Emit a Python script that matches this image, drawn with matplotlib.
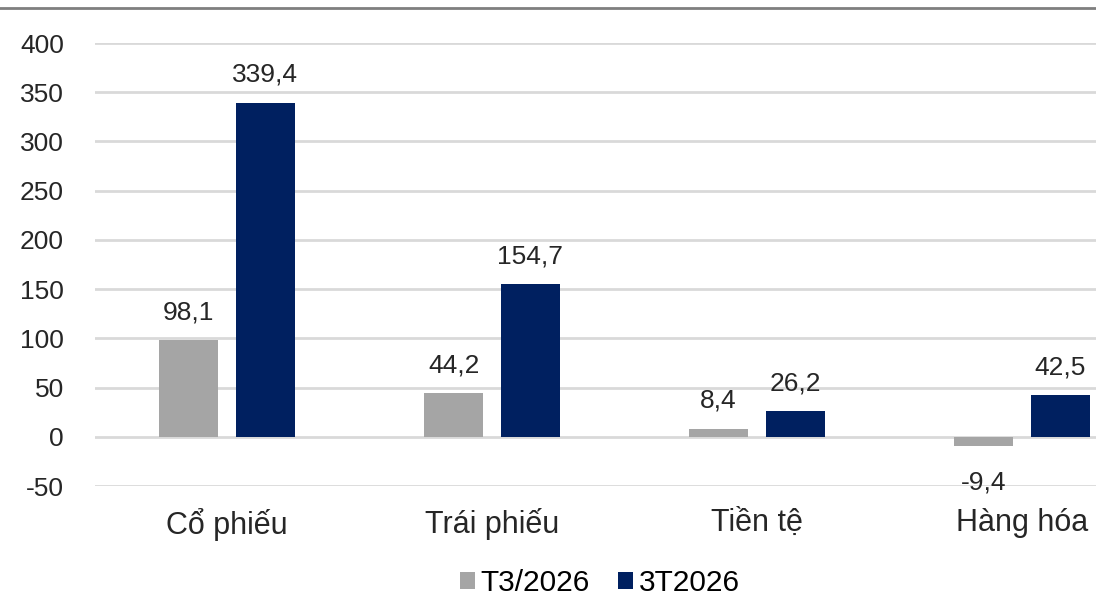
import numpy as np
import matplotlib.pyplot as plt
from matplotlib.lines import Line2D

plt.rcParams['font.family'] = ['Liberation Sans', 'DejaVu Sans']
plt.rcParams['axes.unicode_minus'] = False

categories = ['Cổ phiếu', 'Trái phiếu', 'Tiền tệ', 'Hàng hóa']
t3_2026 = [98.1, 44.2, 8.4, -9.4]
q1_2026 = [339.4, 154.7, 26.2, 42.5]
series_names = ['T3/2026', '3T2026']
colors = ['#a5a5a5', '#002060']

fig = plt.figure(figsize=(10.96, 6.0), dpi=100)
ax = fig.add_axes([94.5 / 1096, 1 - 486 / 600, (1096 - 94.5) / 1096, (486 - 43) / 600])

x = np.arange(len(categories))
w = 0.223
off = 0.145
b1 = ax.bar(x - off, t3_2026, w, color=colors[0], label=series_names[0], zorder=3)
b2 = ax.bar(x + off, q1_2026, w, color=colors[1], label=series_names[1], zorder=3)

def fmt(v):
    return f'{v:.1f}'.replace('.', ',')

for bars, vals in [(b1, t3_2026), (b2, q1_2026)]:
    for rect, v in zip(bars, vals):
        cx = rect.get_x() + rect.get_width() / 2
        dy = 15 if v >= 0 else -31
        ax.annotate(fmt(v), (cx, v), xytext=(0, dy), textcoords='offset points',
                    ha='center', va='baseline', fontsize=19, color='#262626')

ax.set_ylim(-50, 400)
ax.set_yticks(np.arange(-50, 401, 50))
ax.set_xlim(-0.5, -0.5 + 1001.5 / 265)
ax.set_xticks(x)
ax.set_xticklabels(categories, fontsize=22, color='#262626')
ax.tick_params(axis='x', length=0, pad=16)
ax.tick_params(axis='y', length=0, pad=22, labelsize=19, labelcolor='#262626')
ax.grid(axis='y', color='#d9d9d9', linewidth=2, zorder=0)
for s in ax.spines.values():
    s.set_visible(False)

fig.add_artist(Line2D([0, 1], [1 - 8 / 600, 1 - 8 / 600], color='#7f7f7f', linewidth=2))

fig.legend(handles=[b1, b2], labels=series_names, loc='center', bbox_to_anchor=(600 / 1096, 1 - 583 / 600),
           ncol=2, frameon=False, fontsize=21.5, handlelength=0.5, handleheight=0.5,
           handletextpad=0.2, columnspacing=0.95)

fig.savefig('out.png', dpi=100)
